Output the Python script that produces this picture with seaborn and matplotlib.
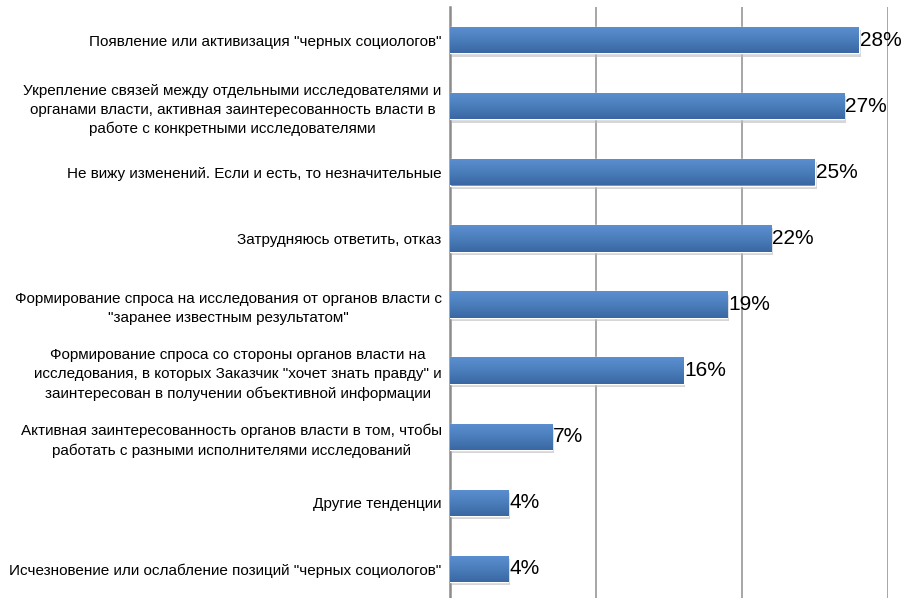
import numpy as np
import pandas as pd
import matplotlib
matplotlib.use("Agg")
import matplotlib.pyplot as plt
from matplotlib.colors import LinearSegmentedColormap
import seaborn as sns

categories = [
    'Появление или активизация "черных социологов"',
    'Укрепление связей между отдельными исследователями и\n'
    'органами власти, активная заинтересованность власти в\n'
    'работе с конкретными исследователями',
    'Не вижу изменений. Если и есть, то незначительные',
    'Затрудняюсь ответить, отказ',
    'Формирование спроса на исследования от органов власти с\n'
    '"заранее известным результатом"',
    'Формирование спроса со стороны органов власти на\n'
    'исследования, в которых Заказчик "хочет знать правду" и\n'
    'заинтересован в получении объективной информации',
    'Активная заинтересованность органов власти в том, чтобы\n'
    'работать с разными исполнителями исследований',
    'Другие тенденции',
    'Исчезновение или ослабление позиций "черных социологов"',
]
shares = [28, 27, 25, 22, 19, 16, 7, 4, 4]
value_labels = [f"{v}%" for v in shares]

df = pd.DataFrame({"category": categories, "share": shares})

sns.set_style("white")
plt.rcParams["font.family"] = ["Liberation Sans", "DejaVu Sans"]
plt.rcParams["text.color"] = "black"
plt.rcParams["ytick.labelcolor"] = "black"

fig = plt.figure(figsize=(9.01, 5.98), dpi=100)
ax = fig.add_axes([450 / 901, 1 - 602 / 598, (888 - 450) / 901, 595 / 598])

sns.barplot(data=df, x="share", y="category", orient="h", color="#4A7EBB",
            width=0.4, ax=ax, saturation=1, zorder=3)

# vertical gradient on each bar, plus a soft drop shadow
grad = LinearSegmentedColormap.from_list("bar", ["#5B8FD1", "#4A7EBB", "#3A67A3"])
gimg = np.linspace(0, 1, 64).reshape(-1, 1)
for p in ax.patches:
    x0, y0 = p.get_x(), p.get_y()
    w, h = p.get_width(), p.get_height()
    shadow = plt.Rectangle((x0 + 0.12, y0 + 0.05), w, h, color="#bcbcbc",
                           alpha=0.6, zorder=2, lw=0)
    ax.add_patch(shadow)
    im = ax.imshow(gimg, cmap=grad, aspect="auto",
                   extent=(x0, x0 + w, y0 + h, y0), zorder=3.5)
    im.set_clip_path(p)

for i, (v, lab) in enumerate(zip(shares, value_labels)):
    ax.text(v + 0.06, i, lab, va="center", ha="left", fontsize=15,
            color="black", clip_on=False, zorder=5)

ax.set_xlim(0, 30)
ax.set_ylim(8.5, -0.5)
ax.set_xticks([0, 10, 20, 30])
ax.set_xticklabels([])
ax.tick_params(axis="x", length=0)
ax.xaxis.grid(True, color="#A6A6A6", linewidth=1.4, zorder=0)
ax.set_axisbelow(True)

ax.set_yticks(range(len(categories)))
ax.set_yticklabels(categories, fontsize=11, multialignment="center",
                   linespacing=1.45, color="black")
ax.tick_params(axis="y", which="major", length=0, pad=6)
ax.set_yticks(np.arange(-0.5, len(categories), 1.0), minor=True)
ax.tick_params(axis="y", which="minor", length=4, width=1.2, color="#8C8C8C")

ax.set_xlabel("")
ax.set_ylabel("")
for s in ["top", "right", "bottom"]:
    ax.spines[s].set_visible(False)
ax.spines["left"].set_color("#8C8C8C")
ax.spines["left"].set_linewidth(1.8)

fig.savefig("out.png", dpi=100)
